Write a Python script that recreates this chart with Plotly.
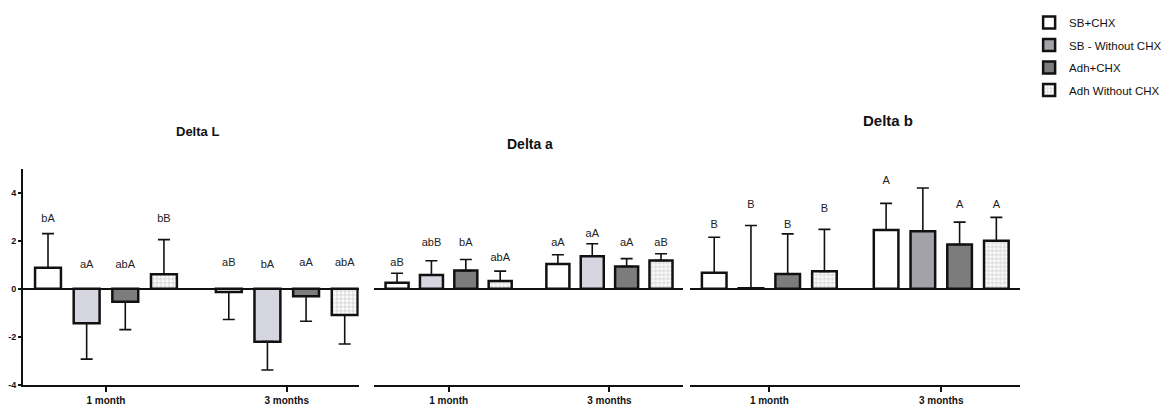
import plotly.graph_objects as go

# ---------------- data ----------------
groups = ["1 month", "3 months"]
series = ["SB+CHX", "SB - Without CHX", "Adh+CHX", "Adh Without CHX"]

# Delta L  (means, end of error bar, letter labels and their heights)
L_mean = [[0.88, -0.13], [-1.43, -2.20], [-0.54, -0.31], [0.61, -1.09]]
L_err_end = [[2.30, -1.28], [-2.93, -3.38], [-1.70, -1.35], [2.05, -2.30]]
L_text = [["bA", "aB"], ["aA", "bA"], ["abA", "aA"], ["bB", "abA"]]
L_text_y = [[2.9, 1.08], [1.0, 1.0], [1.0, 1.08], [2.9, 1.08]]

# Delta a
a_mean = [[0.25, 1.04], [0.58, 1.36], [0.76, 0.93], [0.33, 1.18]]
a_err_end = [[0.65, 1.42], [1.17, 1.88], [1.22, 1.26], [0.74, 1.46]]
a_text = [["aB", "aA"], ["abB", "aA"], ["bA", "aA"], ["abA", "aB"]]
a_text_y = [[1.07, 1.88], [1.88, 2.29], [1.88, 1.88], [1.28, 1.88]]

# Delta b
b_mean = [[0.67, 2.45], [0.02, 2.40], [0.62, 1.85], [0.73, 2.00]]
b_err_end = [[2.15, 3.56], [2.64, 4.20], [2.29, 2.78], [2.48, 2.98]]
b_text = [["B", "A"], ["B", "A"], ["B", "A"], ["B", "A"]]
b_text_y = [[2.64, 4.49], [3.50, 5.26], [2.64, 3.50], [3.33, 3.50]]

y_ticks = [-4, -2, 0, 2, 4]
y_tick_text = ["-4", "-2", "0", "2", "4"]

# ---------------- styling ----------------
OFF = 8                      # page (body) margin around the plot div
W, H = 1173 - OFF, 406 - OFF
FONT = "Liberation Sans, Arial, Helvetica, sans-serif"
fill_light = ["#ffffff", "#d6d6e0", "#7c7c7c", "#ffffff"]
fill_b = ["#ffffff", "#a2a2a8", "#7c7c7c", "#ffffff"]


def fx(px):
    return (px - OFF) / W


def fy(py):
    return 1 - (py - OFF) / H


y_dom = [fy(390.5), fy(169.5)]

panels = [
    dict(name="Delta L", mean=L_mean, err=L_err_end, text=L_text, ty=L_text_y,
         fills=fill_light, dom=[fx(22), fx(358)], rng=[-0.459, 1.398], legend=False),
    dict(name="Delta a", mean=a_mean, err=a_err_end, text=a_text, ty=a_text_y,
         fills=fill_light, dom=[fx(373), fx(683)], rng=[-0.466, 1.46], legend=False),
    dict(name="Delta b", mean=b_mean, err=b_err_end, text=b_text, ty=b_text_y,
         fills=fill_b, dom=[fx(690), fx(1020)], rng=[-0.459, 1.459], legend=True),
]

GAP = 0.145

fig = go.Figure()
layout = dict(
    width=W, height=H,
    margin=dict(l=0, r=0, t=0, b=0),
    paper_bgcolor="white", plot_bgcolor="rgba(0,0,0,0)",
    barmode="group", bargap=GAP, bargroupgap=0.33,
    scattermode="group", scattergap=GAP,
    font=dict(family=FONT, color="#111"),
    showlegend=True,
    legend=dict(x=fx(1029), y=fy(4.5), xanchor="left", yanchor="top",
                font=dict(size=11.5, family=FONT, color="#111"),
                bgcolor="rgba(0,0,0,0)", tracegroupgap=3.5, itemwidth=30),
    annotations=[],
)

titles_pos = [(197, 131, 13), (529, 144, 14), (888, 120, 15)]

for pi, p in enumerate(panels):
    n = pi + 1
    xa = "x" if n == 1 else f"x{n}"
    ya = "y" if n == 1 else f"y{n}"
    for si, s in enumerate(series):
        m = p["mean"][si]
        e = p["err"][si]
        up = [max(ee - mm, 0) if mm >= 0 else 0 for mm, ee in zip(m, e)]
        dn = [max(mm - ee, 0) if mm < 0 else 0 for mm, ee in zip(m, e)]
        marker = dict(color=p["fills"][si], line=dict(color="#111", width=2.5))
        if si == 3:
            marker["pattern"] = dict(shape=".", fgcolor="#bcbcbc", bgcolor="#ffffff",
                                     size=4, solidity=0.6, fillmode="overlay")
        fig.add_trace(go.Bar(
            x=groups, y=m, name=s, marker=marker,
            xaxis=xa, yaxis=ya, legendgroup=s, showlegend=p["legend"],
            error_y=dict(type="data", symmetric=False, array=up, arrayminus=dn,
                         color="#111", thickness=1.6, width=6),
            offsetgroup=str(si), alignmentgroup=f"p{n}",
        ))
    # letter labels, grouped the same way as the bars
    for si, s in enumerate(series):
        fig.add_trace(go.Scatter(
            x=groups, y=p["ty"][si], mode="text", text=p["text"][si],
            textposition="middle center", cliponaxis=False,
            textfont=dict(size=11, family=FONT, color="#222"),
            xaxis=xa, yaxis=ya, showlegend=False, hoverinfo="skip",
            offsetgroup=str(si), alignmentgroup=f"t{n}",
        ))
    key_x = "xaxis" if n == 1 else f"xaxis{n}"
    key_y = "yaxis" if n == 1 else f"yaxis{n}"
    layout[key_x] = dict(
        domain=p["dom"], anchor=ya, type="category", range=p["rng"],
        showline=True, linecolor="#111", linewidth=2,
        ticks="outside", ticklen=5, tickwidth=2, tickcolor="#111",
        tickfont=dict(size=10, family=FONT, color="#111", weight="bold"),
        showgrid=False, zeroline=False, fixedrange=True,
    )
    ydict = dict(
        domain=y_dom, anchor=xa, range=[-4, 5],
        showgrid=False, zeroline=True, zerolinecolor="#111", zerolinewidth=2,
        fixedrange=True,
    )
    if n == 1:
        ydict.update(showline=True, linecolor="#111", linewidth=2,
                     ticks="outside", ticklen=3, tickwidth=2, tickcolor="#111",
                     tickvals=y_ticks, ticktext=y_tick_text,
                     tickfont=dict(size=9, family=FONT, color="#111", weight="bold"))
    else:
        ydict.update(showline=False, showticklabels=False, ticks="")
    layout[key_y] = ydict
    tx, ty, ts = titles_pos[pi]
    layout["annotations"].append(dict(
        text="<b>" + p["name"] + "</b>", x=fx(tx), y=fy(ty),
        xref="paper", yref="paper", showarrow=False,
        font=dict(size=ts, family=FONT, color="#111"),
        xanchor="center", yanchor="middle",
    ))

fig.update_layout(**layout)
fig.write_html("out.html")
